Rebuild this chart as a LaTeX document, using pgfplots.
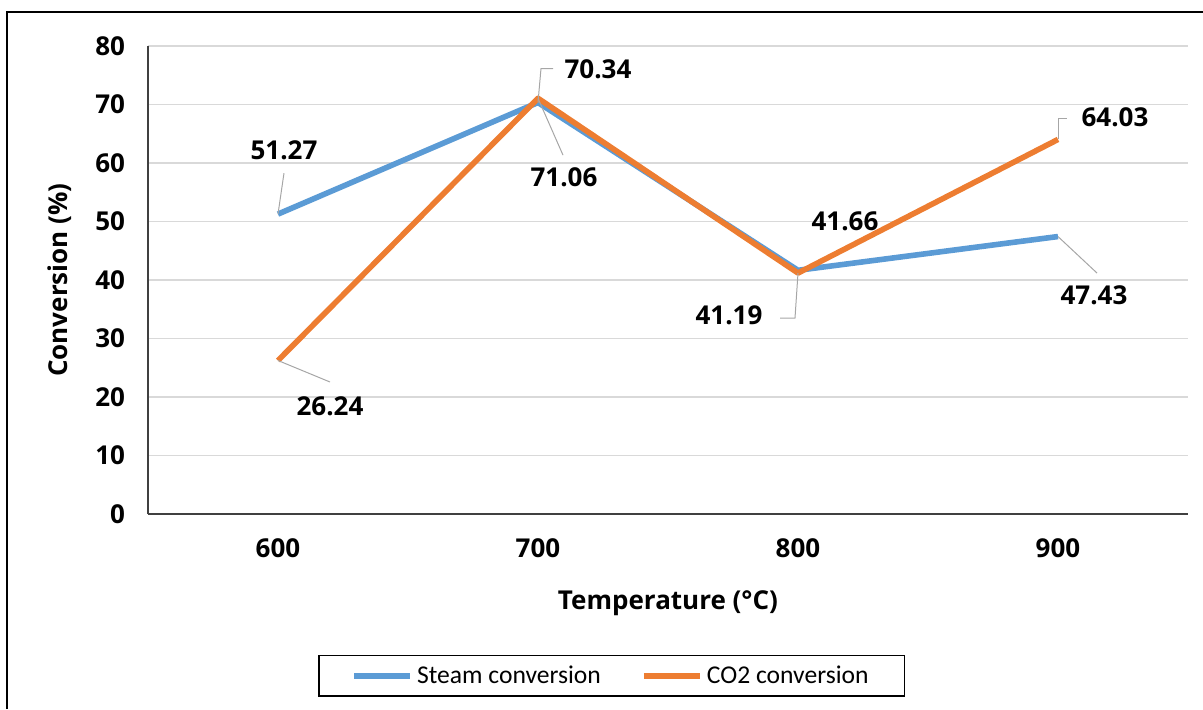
\documentclass[border=0pt]{standalone}
\usepackage{fontspec}
\setmainfont{Open Sans}
\newfontfamily\legfont{Carlito}
\usepackage{pgfplots}
\pgfplotsset{compat=1.18}
\definecolor{steam}{HTML}{5B9BD5}
\definecolor{cotwo}{HTML}{ED7D31}
\definecolor{gridgray}{HTML}{D9D9D9}
\definecolor{axgray}{HTML}{404040}
\definecolor{leadgray}{HTML}{A6A6A6}

\begin{document}
\begin{tikzpicture}
% page size = 1203x709 px at 0.5pt per px, axis origin at (148,514) px
\useasboundingbox (-74pt,-97.5pt) rectangle (527.5pt,257pt);
\draw[black, line width=0.8pt] (-70.5pt,-97.5pt) -- (-70.5pt,251pt) -- (527.5pt,251pt);
\begin{axis}[
    scale only axis,
    width=520pt, height=234pt,
    at={(0,0)}, anchor=south west,
    xmin=-0.5, xmax=3.5,
    ymin=0, ymax=80,
    xtick={0,1,2,3},
    xticklabels={600,700,800,900},
    ytick={0,10,...,80},
    axis lines=left,
    axis line style={-, color=axgray, line width=0.8pt},
    major tick length=0pt,
    ymajorgrids,
    grid style={gridgray, line width=0.8pt},
    tick label style={font=\bfseries\fontsize{13}{15}\selectfont},
    /pgf/number format/assume math mode=true,
    yticklabel style={xshift=-8pt},
    xticklabel style={yshift=-9pt},
    xlabel={Temperature (°C)},
    ylabel={Conversion (\%)},
    every axis x label/.style={at={([yshift=-44.5pt]axis description cs:0.5,0)}, anchor=center,
        font=\bfseries\fontsize{13}{15}\selectfont},
    every axis y label/.style={at={([xshift=-44pt]axis description cs:0,0.5)}, anchor=center, rotate=90,
        font=\bfseries\fontsize{13}{15}\selectfont},
    legend columns=2,
    legend style={at={(axis description cs:0.446,-0.346)}, anchor=center,
        draw=black, line width=0.8pt, inner xsep=16pt, inner ysep=3pt,
        font=\legfont\fontsize{12.8}{15}\selectfont,
        /tikz/every even column/.append style={column sep=18pt}},
    legend image code/.code={\draw[#1, line width=3pt] (0pt,0pt) -- (28pt,0pt);},
    clip=false,
]
\addplot[steam, line width=2.8pt, line join=round, no markers]
    coordinates {(0,51.27) (1,70.34) (2,41.66) (3,47.43)};
\addplot[cotwo, line width=2.8pt, line join=round, no markers]
    coordinates {(0,26.24) (1,71.06) (2,41.19) (3,64.03)};
\legend{Steam conversion, CO2 conversion}

% data labels with leader lines
\begin{scope}[every node/.style={font=\bfseries\fontsize{13}{15}\selectfont, inner sep=0pt}]
\draw[leadgray, line width=0.5pt] (axis cs:0,51.27) -- ++(3pt,20.5pt);
\node at ([shift={(3pt,32pt)}]axis cs:0,51.27) {51.27};
\draw[leadgray, line width=0.5pt] (axis cs:1,70.34) -- ++(1.5pt,17pt) -- ++(6pt,0pt);
\node at ([shift={(30pt,16.75pt)}]axis cs:1,70.34) {70.34};
\node at ([shift={(23.5pt,24.6pt)}]axis cs:2,41.66) {41.66};
\draw[leadgray, line width=0.5pt] (axis cs:3,47.43) -- ++(19.5pt,-18.25pt);
\node at ([shift={(18pt,-29.25pt)}]axis cs:3,47.43) {47.43};

\draw[leadgray, line width=0.5pt] (axis cs:0,26.24) -- ++(26pt,-10.75pt);
\node at ([shift={(26pt,-22.75pt)}]axis cs:0,26.24) {26.24};
\draw[leadgray, line width=0.5pt] (axis cs:1,71.06) -- ++(12.5pt,-28.4pt);
\node at ([shift={(13pt,-39.4pt)}]axis cs:1,71.06) {71.06};
\draw[leadgray, line width=0.5pt] (axis cs:2,41.19) -- ++(-1.5pt,-22.5pt) -- ++(-7.5pt,0pt);
\node at ([shift={(-34.5pt,-21pt)}]axis cs:2,41.19) {41.19};
\draw[leadgray, line width=0.5pt] (axis cs:3,64.03) -- ++(0pt,10.7pt) -- ++(4.5pt,0pt);
\node at ([shift={(28.5pt,11.2pt)}]axis cs:3,64.03) {64.03};
\end{scope}
\end{axis}
\end{tikzpicture}
\end{document}
